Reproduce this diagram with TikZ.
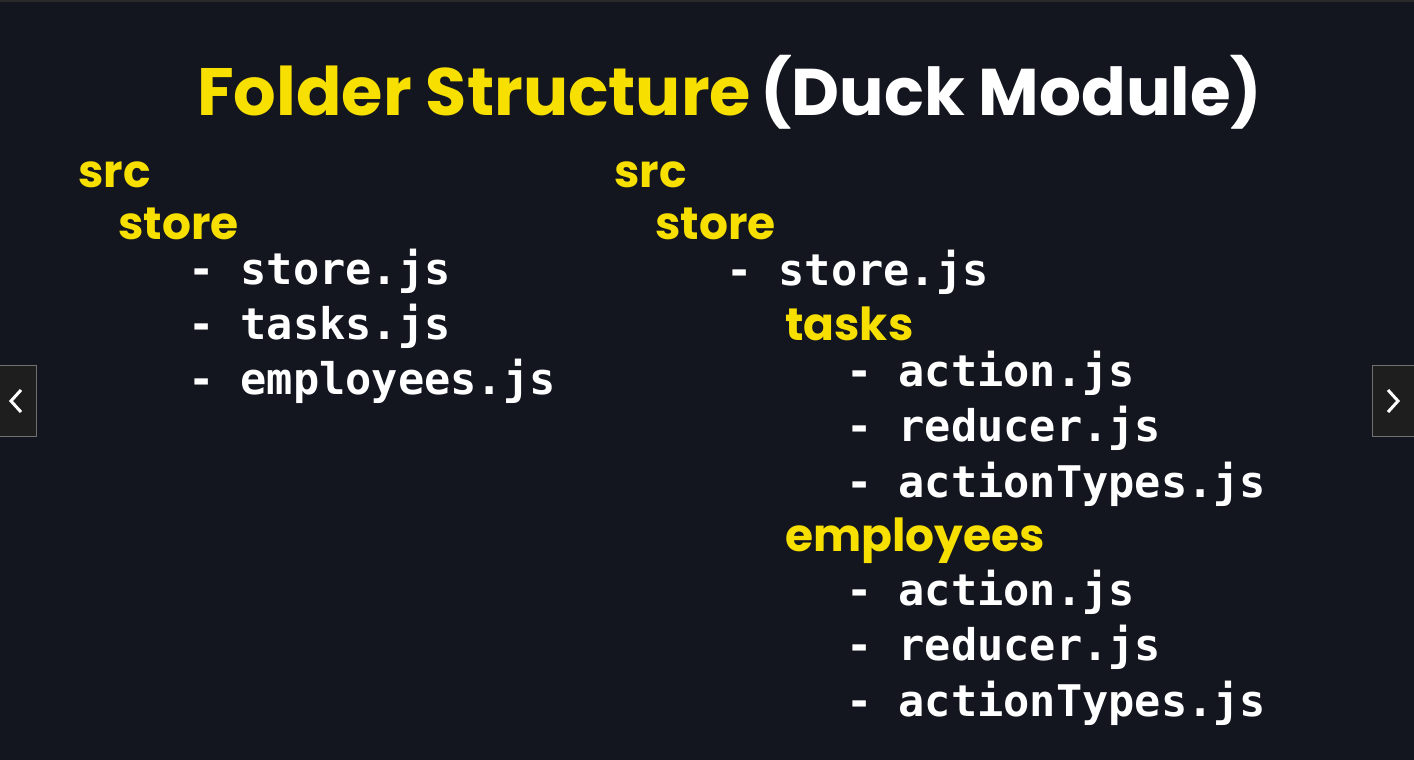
\documentclass[tikz,border=0pt]{standalone}
\usepackage{fontspec}
\setmainfont{Poppins}
\newfontfamily\codefont{DejaVu Sans Mono}
\definecolor{bg}{HTML}{13151F}
\definecolor{ylw}{HTML}{F7E000}
\definecolor{navfill}{HTML}{1E1E1E}
\definecolor{navline}{HTML}{707070}
\definecolor{topstrip}{HTML}{2A2A2A}
\tikzset{
  titleY/.style={anchor=base west, inner sep=0pt, text=ylw, font=\fontsize{67}{70}\selectfont\bfseries},
  titleW/.style={anchor=base west, inner sep=0pt, text=white, font=\fontsize{66}{70}\selectfont\bfseries},
  folder/.style={anchor=base west, inner sep=0pt, text=ylw, font=\fontsize{45.5}{48}\selectfont\bfseries},
  file/.style={anchor=base west, inner sep=0pt, text=white, font=\fontsize{43.6}{48}\selectfont\codefont\bfseries},
  navbox/.style={fill=navfill, draw=navline, line width=1pt},
  chev/.style={draw=white, line width=3pt}
}
\begin{document}
\begin{tikzpicture}[x=1pt,y=-1pt]
\fill[bg] (0,0) rectangle (1414,760);
\useasboundingbox (0,0) rectangle (1414,760);
\fill[topstrip] (0,0) rectangle (1414,2);
% title
\node[titleY] (t1) at (197,115) {Folder Structure};
\node[titleW] (t2) at (760,115) {(Duck Module)};
% left column
\node[folder] (lsrc) at (78,187) {src};
\node[folder] (lstore) at (118,239) {store};
\node[file] (lf1) at (188,284) {- store.js};
\node[file] (lf2) at (188,339) {- tasks.js};
\node[file] (lf3) at (188,394) {- employees.js};
% right column
\node[folder] (rsrc) at (614,187) {src};
\node[folder] (rstore) at (655,239) {store};
\node[file] (rf0) at (726,285) {- store.js};
\node[folder] (rtasks) at (785,340) {tasks};
\node[file] (rt1) at (846,386) {- action.js};
\node[file] (rt2) at (846,441) {- reducer.js};
\node[file] (rt3) at (846,497) {- actionTypes.js};
\node[folder] (remp) at (785,551) {employees};
\node[file] (re1) at (846,605) {- action.js};
\node[file] (re2) at (846,660) {- reducer.js};
\node[file] (re3) at (846,716) {- actionTypes.js};
% nav buttons
\draw[navbox] (-2,365.5) rectangle (36.5,436.5);
\draw[chev] (21,390) -- (11,401) -- (21,412);
\draw[navbox] (1372.5,365.5) rectangle (1416,436.5);
\draw[chev] (1388,390) -- (1398,401) -- (1388,412);
\end{tikzpicture}
\end{document}
